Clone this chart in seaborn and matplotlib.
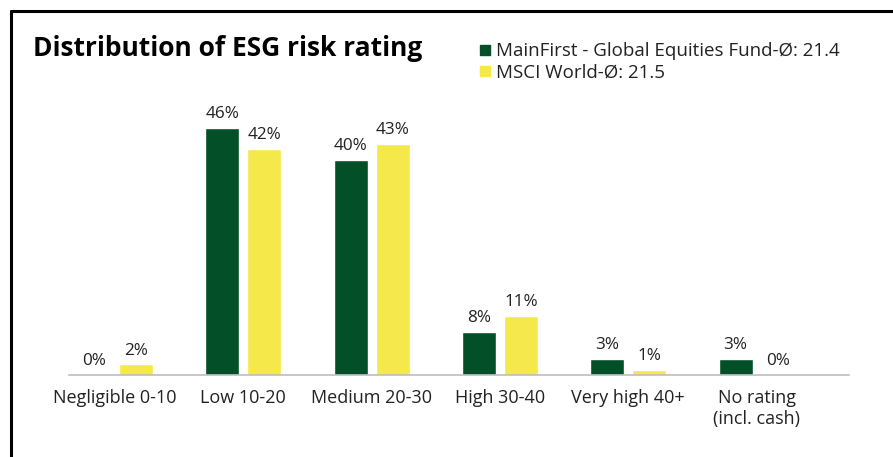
import pandas as pd
import matplotlib.pyplot as plt
import seaborn as sns
from matplotlib.lines import Line2D

categories = ["Negligible 0-10", "Low 10-20", "Medium 20-30", "High 30-40",
              "Very high 40+", "No rating\n(incl. cash)"]
fund_name = "MainFirst - Global Equities Fund-Ø: 21.4"
bench_name = "MSCI World-Ø: 21.5"
fund_values = [0, 46, 40, 8, 3, 3]
bench_values = [2, 42, 43, 11, 1, 0]

GREEN = "#034f27"
YELLOW = "#f5e84a"
TEXT = "#222222"

df = pd.DataFrame({
    "category": categories * 2,
    "series": [fund_name] * len(categories) + [bench_name] * len(categories),
    "value": fund_values + bench_values,
})

sns.set_theme(style="white")
plt.rcParams["font.family"] = ["Open Sans", "DejaVu Sans"]

fig = plt.figure(figsize=(8.93, 4.57), dpi=100)
ax = fig.add_axes([69 / 893, 1 - 375 / 457, 780 / 893, 269 / 457])

sns.barplot(data=df, x="category", y="value", hue="series",
            palette=[GREEN, YELLOW], width=0.655, gap=0.19,
            ax=ax, legend=False, saturation=1)

for cont, vals in zip(ax.containers, [fund_values, bench_values]):
    ax.bar_label(cont, labels=[f"{v}%" for v in vals], padding=4,
                 fontsize=12.3, color=TEXT)

ax.set_xlim(-0.358, 5.72)
ax.set_ylim(0, 50)
ax.set_xlabel("")
ax.set_ylabel("")
ax.set_yticks([])
ax.tick_params(axis="x", length=0, pad=10, labelsize=13, labelcolor=TEXT)
for s in ["left", "right", "top"]:
    ax.spines[s].set_visible(False)
ax.spines["bottom"].set_color("#bdbdbd")
ax.spines["bottom"].set_linewidth(1.2)

fig.text(33 / 893, 1 - 49 / 457, "Distribution of ESG risk rating",
         fontsize=19, fontweight="bold", color="black", va="center", ha="left")

handles = [Line2D([], [], marker="s", linestyle="", markersize=7.5,
                  markerfacecolor=c, markeredgecolor=c) for c in (GREEN, YELLOW)]
fig.legend(handles, [fund_name, bench_name], loc="upper left",
           bbox_to_anchor=(470 / 893, 1 - 33 / 457), frameon=False,
           fontsize=13.5, handlelength=0.55, handletextpad=0.35,
           labelspacing=0.15, borderpad=0, labelcolor=TEXT)

# frame lines on the left and top
fig.add_artist(Line2D([11 / 893, 11 / 893], [0, 1 - 11 / 457],
                      color="black", lw=2.2, transform=fig.transFigure))
fig.add_artist(Line2D([11 / 893, 1], [1 - 11 / 457, 1 - 11 / 457],
                      color="black", lw=2.2, transform=fig.transFigure))

fig.savefig("out.png", dpi=100)
